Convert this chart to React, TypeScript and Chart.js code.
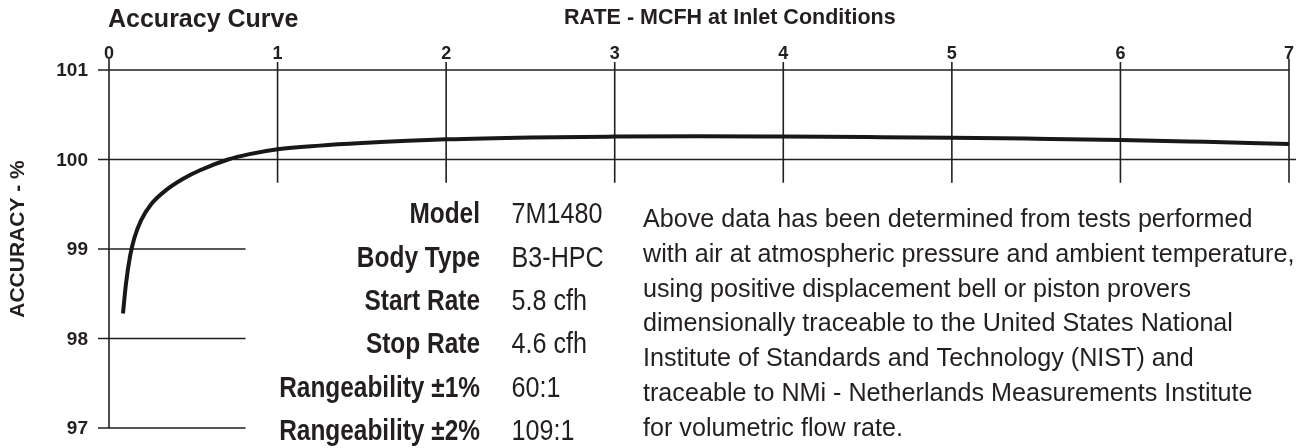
import React, { useEffect, useRef } from 'react';
import { Chart, registerables } from 'chart.js';

Chart.register(...registerables);

// ---- data ----
const rateValues = [0.083, 0.1, 0.125, 0.15, 0.19, 0.25, 0.34, 0.44, 0.54, 0.706, 0.833, 1.0, 1.25, 1.5, 2, 2.5, 3, 3.5, 4, 4.5, 5, 5.5, 6, 6.5, 7];
const accuracyValues = [98.28, 98.6, 98.92, 99.12, 99.32, 99.5, 99.66, 99.785, 99.88, 100.0, 100.06, 100.115, 100.155, 100.183, 100.225, 100.247, 100.256, 100.259, 100.256, 100.251, 100.244, 100.232, 100.218, 100.197, 100.174];
const xTickValues = [0, 1, 2, 3, 4, 5, 6, 7];
const xTickLabels = ['0', '1', '2', '3', '4', '5', '6', '7'];
const yTickValues = [97, 98, 99, 100, 101];
const yTickLabels = ['97', '98', '99', '100', '101'];
const fullGridValues = [100, 101];
const tableLabels = ['Model', 'Body Type', 'Start Rate', 'Stop Rate', 'Rangeability ±1%', 'Rangeability ±2%'];
const tableValues = ['7M1480', 'B3-HPC', '5.8 cfh', '4.6 cfh', '60:1', '109:1'];
const noteLines = [
  'Above data has been determined from tests performed',
  'with air at atmospheric pressure and ambient temperature,',
  'using positive displacement bell or piston provers',
  'dimensionally traceable to the United States National',
  'Institute of Standards and Technology (NIST) and',
  'traceable to NMi - Netherlands Measurements Institute',
  'for volumetric flow rate.',
];
const chartTitle = 'Accuracy Curve';
const xAxisTitle = 'RATE - MCFH at Inlet Conditions';
const yAxisTitle = 'ACCURACY - %';

const INK = '#231f20';
const FAMILY = '"Liberation Sans", Arial, Helvetica, sans-serif';

function drawText(
  ctx: CanvasRenderingContext2D,
  text: string,
  x: number,
  y: number,
  font: string,
  align: CanvasTextAlign,
  sx = 1,
  baseline: CanvasTextBaseline = 'alphabetic'
) {
  ctx.save();
  ctx.font = font;
  ctx.textAlign = align;
  ctx.textBaseline = baseline;
  ctx.fillStyle = INK;
  ctx.translate(x, y);
  ctx.scale(sx, 1);
  ctx.fillText(text, 0, 0);
  ctx.restore();
}

function measure(ctx: CanvasRenderingContext2D, text: string, font: string) {
  ctx.save();
  ctx.font = font;
  const w = ctx.measureText(text).width;
  ctx.restore();
  return w;
}

const framePlugin = {
  id: 'framePlugin',
  beforeDatasetsDraw(chart: any) {
    const ctx: CanvasRenderingContext2D = chart.ctx;
    const xs = chart.scales.x;
    const ys = chart.scales.y;
    const area = chart.chartArea;
    ctx.save();
    ctx.strokeStyle = INK;
    ctx.lineWidth = 1.6;
    ctx.lineCap = 'butt';
    const shortEnd = xs.getPixelForValue(0.81);
    yTickValues.forEach((v) => {
      const y = ys.getPixelForValue(v);
      const x0 = area.left - 11;
      const x1 = fullGridValues.includes(v)
        ? (v === 101 ? area.right : area.right + 7)
        : shortEnd;
      ctx.beginPath();
      ctx.moveTo(x0, y);
      ctx.lineTo(x1, y);
      ctx.stroke();
    });
    const tickBottom = ys.getPixelForValue(99.74);
    xTickValues.forEach((v) => {
      const x = xs.getPixelForValue(v);
      ctx.beginPath();
      ctx.moveTo(x, area.top - (v === 0 || v === 7 ? 11 : 8));
      ctx.lineTo(x, v === 0 ? area.bottom : tickBottom);
      ctx.stroke();
    });
    ctx.restore();
  },
  afterDraw(chart: any) {
    const ctx: CanvasRenderingContext2D = chart.ctx;
    const xs = chart.scales.x;
    const ys = chart.scales.y;
    const area = chart.chartArea;

    drawText(ctx, chartTitle, 108, 27, `bold 25px ${FAMILY}`, 'left');
    drawText(ctx, xAxisTitle, 564, 23.5, `bold 21.5px ${FAMILY}`, 'left');

    xTickValues.forEach((v, i) => {
      drawText(ctx, xTickLabels[i], xs.getPixelForValue(v), 58.5, `bold 18px ${FAMILY}`, 'center');
    });
    yTickValues.forEach((v, i) => {
      drawText(ctx, yTickLabels[i], area.left - 21, ys.getPixelForValue(v) + 1, `bold 19px ${FAMILY}`, 'right', 1, 'middle');
    });

    ctx.save();
    ctx.translate(18, 239);
    ctx.rotate(-Math.PI / 2);
    drawText(ctx, yAxisTitle, 0, 0, `bold 21px ${FAMILY}`, 'center', 1, 'middle');
    ctx.restore();

    // info table (condensed look: horizontally compressed)
    const labelFont = `bold 29px ${FAMILY}`;
    const valueFont = `29px ${FAMILY}`;
    const labelTargets = [70, 117, 116, 112, 205, 205];
    const valueTargets = [91.6, 86.5, 76.5, 76.5, 50, 65];
    let lm = 0, lt = 0, vm = 0, vt = 0;
    tableLabels.forEach((t, i) => { lm += measure(ctx, t, labelFont); lt += labelTargets[i]; });
    tableValues.forEach((t, i) => { vm += measure(ctx, t, valueFont); vt += valueTargets[i]; });
    const labelScale = lt / lm;
    const valueScale = vt / vm;
    tableLabels.forEach((t, i) => {
      const y = 223.3 + i * 43.3;
      drawText(ctx, t, 480, y, labelFont, 'right', labelScale);
      drawText(ctx, tableValues[i], 511.5, y, valueFont, 'left', valueScale);
    });

    // note paragraph
    const noteFont = `25px ${FAMILY}`;
    const noteTargets = [562, 647, 565, 607, 574, 595, 269];
    let nm = 0, nt = 0;
    noteLines.forEach((t, i) => { nm += measure(ctx, t, noteFont); nt += noteTargets[i]; });
    const noteScale = nt / nm;
    noteLines.forEach((t, i) => {
      drawText(ctx, t, 643, 227 + i * 34.8, noteFont, 'left', noteScale);
    });
  },
};

export default function App() {
  const canvasRef = useRef<HTMLCanvasElement | null>(null);
  useEffect(() => {
    const canvas = canvasRef.current;
    if (!canvas) return;
    const chart = new Chart(canvas, {
      type: 'line',
      data: {
        datasets: [
          {
            data: rateValues.map((x, i) => ({ x, y: accuracyValues[i] })),
            borderColor: '#1a1718',
            borderWidth: 4,
            pointRadius: 0,
            fill: false,
            cubicInterpolationMode: 'monotone',
          },
        ],
      },
      options: {
        animation: false,
        responsive: false,
        devicePixelRatio: 1,
        layout: { padding: { left: 109, right: 19, top: 70, bottom: 20 } },
        plugins: { legend: { display: false }, tooltip: { enabled: false }, title: { display: false } },
        scales: {
          x: { type: 'linear', min: 0, max: 7, display: false },
          y: { type: 'linear', min: 97, max: 101, display: false },
        },
        elements: { line: { borderCapStyle: 'butt' } },
      },
      plugins: [framePlugin],
    } as any);
    return () => chart.destroy();
  }, []);
  return (
    <div style={{ position: 'absolute', left: 0, top: 0, width: 1308, height: 448, background: '#fff' }}>
      <canvas ref={canvasRef} width={1308} height={448} style={{ width: 1308, height: 448, display: 'block' }} />
    </div>
  );
}
